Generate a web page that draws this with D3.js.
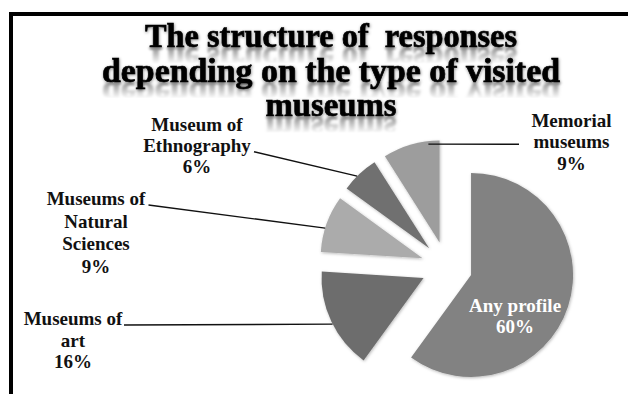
<!DOCTYPE html>
<html>
<head>
<meta charset="utf-8">
<script src="https://cdn.jsdelivr.net/npm/d3@7"></script>
<style>
  html, body { margin: 0; padding: 0; background: #fff; }
  svg { display: block; }
</style>
</head>
<body>
<svg id="chart" width="628" height="394"></svg>
<script>
// Survey answers: which type of museum respondents visited (share, %)
const categories = ["Any profile", "Museums of art", "Museums of Natural Sciences", "Museum of Ethnography", "Memorial museums"];
const shares = [60, 16, 9, 6, 9];
const labelLines = [["Any profile"], ["Museums of", "art"], ["Museums of", "Natural", "Sciences"], ["Museum of", "Ethnography"], ["Memorial", "museums"]];
const sliceGrays = ["#828282", "#6d6d6d", "#ababab", "#6f6f6f", "#9d9d9d"];
const titleLines = ["The structure of  responses", "depending on the type of visited", "museums"];

const W = 628, H = 394;
const SERIF = '"Liberation Serif"';
const svg = d3.select("#chart");
const defs = svg.append("defs");

// frame: thick black rule along the top and left edges
svg.append("rect")
  .attr("x", 11).attr("y", 14)
  .attr("width", W + 40).attr("height", H + 40)
  .attr("fill", "#fff").attr("stroke", "#000").attr("stroke-width", 4);

// ---------- filters ----------
const soft = defs.append("filter").attr("id", "sliceShadow")
  .attr("x", "-20%").attr("y", "-20%").attr("width", "140%").attr("height", "140%");
soft.append("feDropShadow").attr("dx", 0.8).attr("dy", 1).attr("stdDeviation", 1.6)
  .attr("flood-color", "#000").attr("flood-opacity", 0.28);

const glow = defs.append("filter").attr("id", "titleGlow")
  .attr("x", "-10%").attr("y", "-30%").attr("width", "120%").attr("height", "160%");
glow.append("feDropShadow").attr("dx", 0.5).attr("dy", 1).attr("stdDeviation", 1.4)
  .attr("flood-color", "#000").attr("flood-opacity", 0.45);

const blur = defs.append("filter").attr("id", "reflBlur")
  .attr("x", "-10%").attr("y", "-40%").attr("width", "120%").attr("height", "180%");
blur.append("feGaussianBlur").attr("stdDeviation", 1.3);

const fade = defs.append("linearGradient").attr("id", "reflFade")
  .attr("x1", 0).attr("y1", 0).attr("x2", 0).attr("y2", 1);
fade.append("stop").attr("offset", 0).attr("stop-color", "#fff").attr("stop-opacity", 0.8);
fade.append("stop").attr("offset", 1).attr("stop-color", "#fff").attr("stop-opacity", 0);

// ---------- title with mirrored reflection ----------
const titleX = 331, titleSize = 33;
const titleBase = d3.scaleLinear().domain([0, 1]).range([47, 81.6]);
const titleWidths = [372, 458, 131];

const titleG = svg.append("g").attr("class", "title");
const reflG = titleG.append("g").attr("class", "reflections");
const mainG = titleG.append("g").attr("class", "lines");

titleLines.forEach((line, i) => {
  mainG.append("text")
    .attr("id", "titleLine" + i)
    .attr("x", titleX).attr("y", titleBase(i))
    .attr("text-anchor", "middle")
    .style("font-family", SERIF).style("font-weight", "bold").style("font-size", titleSize + "px")
    .attr("textLength", titleWidths[i]).attr("lengthAdjust", "spacingAndGlyphs")
    .attr("fill", "#000").attr("stroke", "#000").attr("stroke-width", 0.7)
    .attr("filter", "url(#titleGlow)")
    .style("white-space", "pre")
    .text(line);
});

// mirrored, blurred copies fading out under each baseline
titleLines.forEach((line, i) => {
  const by = titleBase(i);
  const mask = defs.append("mask").attr("id", "reflMask" + i)
    .attr("maskUnits", "userSpaceOnUse")
    .attr("x", 0).attr("y", 0).attr("width", W).attr("height", H);
  mask.append("rect").attr("x", 0).attr("y", by).attr("width", W).attr("height", 17)
    .attr("fill", "url(#reflFade)");
  reflG.append("g").attr("mask", `url(#reflMask${i})`)
    .append("g").attr("filter", "url(#reflBlur)")
    .append("use")
    .attr("href", "#titleLine" + i)
    .attr("transform", `translate(0,${2 * by + 1}) scale(1,-1)`)
    .attr("opacity", 0.55);
});

// ---------- exploded pie ----------
const cx = 446.7, cy = 267, R = 102, explode = 25.6;
const pie = d3.pie().sort(null).value(d => d).startAngle(0).endAngle(2 * Math.PI);
const arcs = pie(shares);
const arc = d3.arc().innerRadius(0).outerRadius(R);

const polar = (a, r) => [r * Math.sin(a), -r * Math.cos(a)];
const apexOf = d => {
  const m = (d.startAngle + d.endAngle) / 2;
  const [dx, dy] = polar(m, explode);
  return [cx + dx, cy + dy];
};

const pieG = svg.append("g").attr("class", "pie");
pieG.selectAll("path.slice")
  .data(arcs)
  .join("path")
  .attr("class", "slice")
  .attr("transform", d => `translate(${apexOf(d)})`)
  .attr("d", arc)
  .attr("fill", (d, i) => sliceGrays[i])
  .attr("filter", "url(#sliceShadow)");

// ---------- labels ----------
// label placement: centre x, first baseline, line step, leader start, attach point on the rim
const labelLayout = [
  { inside: true, angle: 134 * Math.PI / 180, rf: 0.6, step: 21.4 },
  { x: 73, y: 325, step: 21.7, from: [124, 325], frac: 0.47, rf: 1 },
  { x: 96, y: 205, step: 22.6, from: [148.5, 205], frac: 0.42, rf: 1 },
  { x: 197, y: 130.7, step: 21.3, from: [254, 151.7], frac: 0.42, rf: 1 },
  { x: 571.5, y: 126.7, step: 21.7, from: [519, 144.3], frac: 0.8, rf: 0.97 }
];

const labG = svg.append("g").attr("class", "labels");
const styleLabel = (t, color) => t
  .attr("text-anchor", "middle")
  .style("font-family", SERIF).style("font-weight", "bold").style("font-size", "19px")
  .attr("fill", color);

arcs.forEach((d, i) => {
  const L = labelLayout[i];
  const lines = labelLines[i].concat([shares[i] + "%"]);
  const apex = apexOf(d);
  if (L.inside) {
    const [dx, dy] = polar(L.angle, R * L.rf);
    const px = apex[0] + dx, py = apex[1] + dy;
    const t = styleLabel(labG.append("text"), "#fff");
    lines.forEach((s, k) => {
      t.append("tspan").attr("x", px).attr("y", py - 5.7 + k * L.step).text(s);
    });
    return;
  }
  // leader line from the label to the slice rim
  const a = d.startAngle + (d.endAngle - d.startAngle) * L.frac;
  const [ex, ey] = polar(a, R * L.rf);
  labG.append("line")
    .attr("x1", L.from[0]).attr("y1", L.from[1])
    .attr("x2", apex[0] + ex).attr("y2", apex[1] + ey)
    .attr("stroke", "#111").attr("stroke-width", 1.4);
  const t = styleLabel(labG.append("text"), "#111");
  lines.forEach((s, k) => {
    t.append("tspan").attr("x", L.x).attr("y", L.y + k * L.step).text(s);
  });
});
</script>
</body>
</html>
